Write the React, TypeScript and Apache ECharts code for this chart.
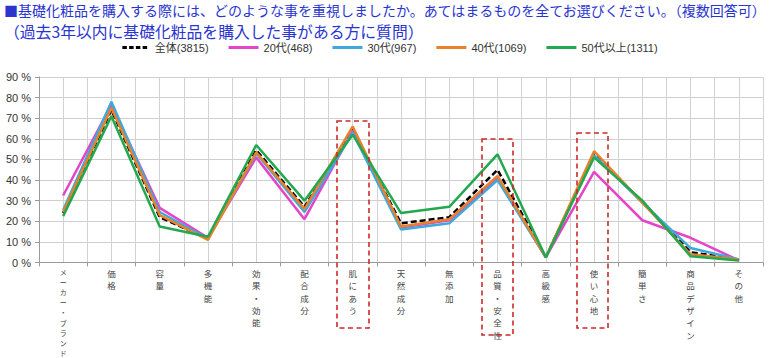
import React, { useEffect, useRef } from "react";
import * as echarts from "echarts";

const categories = [
  "メーカー・ブランド", "価格", "容量", "多機能", "効果・効能", "配合成分", "肌にあう",
  "天然成分", "無添加", "品質・安全性", "高級感", "使い心地", "簡単さ", "商品デザイン", "その他",
];
const seriesNames = ["全体(3815)", "20代(468)", "30代(967)", "40代(1069)", "50代以上(1311)"];
const totalAll = [24, 74, 22, 11.5, 54.5, 27, 64.5, 19, 22, 45, 2.5, 52.5, 29.5, 5, 1.5];
const age20 = [32.5, 76.5, 26.5, 12, 51, 21, 64, 17, 20.5, 41, 2.5, 44, 20.5, 12, 1];
const age30 = [25.5, 78, 24.5, 11.5, 53, 24.5, 63, 16, 19, 40, 2.5, 52, 29, 7, 1.5];
const age40 = [24.5, 75, 23, 11, 53.5, 26, 66, 17.5, 21, 42, 2.5, 54, 29, 4, 1.5];
const age50 = [22.5, 71, 17.5, 12.5, 57, 30, 62, 24, 27, 52.5, 2.5, 51, 30, 3, 1];
const yTicks = [0, 10, 20, 30, 40, 50, 60, 70, 80, 90];
const titleLine1 = "■基礎化粧品を購入する際には、どのような事を重視しましたか。あてはまるものを全てお選びください。（複数回答可）";
const titleLine2 = "（過去3年以内に基礎化粧品を購入した事がある方に質問）";
const colors = ["#000000", "#e544c9", "#3fa9dd", "#e8822a", "#22a84e"];

const FONT = "'Liberation Sans', 'Noto Sans CJK JP', sans-serif";
const CJK = "'Noto Sans CJK JP', sans-serif";
const SOLID_ICON = "path://M0 0H40V4H0Z";
const DASH_ICON = "path://M0 0H6V4H0ZM9 0H15V4H9ZM18 0H24V4H18ZM27 0H33V4H27Z";

export default function App() {
  const ref = useRef<HTMLDivElement>(null);
  useEffect(() => {
    document.body.style.margin = "0";
    const chart = echarts.init(ref.current!, null, { renderer: "svg" });
    const values = [totalAll, age20, age30, age40, age50];
    const halfCats = categories.flatMap((c) => [c + "a", c + "b"]);
    const redBox = (x: number, y: number, w: number, h: number) => ({
      type: "rect",
      shape: { x, y, width: w, height: h },
      style: { fill: "none", stroke: "#cc2a2a", lineWidth: 1.6, lineDash: [5, 3.5] },
      z: 100,
    });
    const titleText = (text: string, x: number, y: number, size: number) => ({
      type: "text",
      style: {
        x,
        y,
        text,
        fill: "#2a35d0",
        fontSize: size,
        fontFamily: CJK,
        verticalAlign: "middle",
        align: "left",
      },
      z: 100,
    });
    chart.setOption({
      animation: false,
      backgroundColor: "#ffffff",
      legend: {
        top: 37,
        left: "center",
        itemWidth: 30,
        itemHeight: 3,
        itemGap: 20,
        textStyle: { fontSize: 11, color: "#333", fontFamily: FONT },
        data: seriesNames.map((name, i) => ({ name, icon: i === 0 ? DASH_ICON : SOLID_ICON })),
      },
      grid: { left: 39, right: 17, top: 77, height: 185.5 },
      xAxis: [
        {
          type: "category",
          data: categories,
          boundaryGap: true,
          axisLine: { lineStyle: { color: "#9a9a9a", width: 1 } },
          axisTick: { show: true, length: 4, lineStyle: { color: "#9a9a9a" }, interval: 0 },
          splitLine: { show: false },
          axisLabel: {
            interval: 0,
            margin: 4,
            color: "#444",
            fontFamily: CJK,
            verticalAlign: "top",
            formatter: (v: string) => {
              const st = v.length > 7 ? "b" : "a";
              return v.split("").map((ch) => `{${st}|${ch}}`).join("\n");
            },
            rich: {
              a: { fontSize: 8.5, lineHeight: 12.4, color: "#444", fontFamily: CJK },
              b: { fontSize: 7, lineHeight: 10.2, color: "#444", fontFamily: CJK },
            },
          },
        },
        {
          type: "category",
          data: halfCats,
          boundaryGap: true,
          position: "bottom",
          axisLine: { show: false },
          axisTick: { show: false },
          axisLabel: { show: false },
          splitLine: { show: true, interval: 0, lineStyle: { color: "#d2d2d2", width: 1 } },
        },
      ],
      yAxis: {
        type: "value",
        min: 0,
        max: 90,
        interval: 10,
        axisLine: { show: true, lineStyle: { color: "#9a9a9a" } },
        axisTick: { show: true, length: 4, lineStyle: { color: "#9a9a9a" } },
        splitLine: { show: true, lineStyle: { color: "#cfcfcf", width: 1 } },
        axisLabel: {
          margin: 8,
          fontSize: 11,
          color: "#333",
          fontFamily: FONT,
          formatter: (v: number) => (yTicks.includes(v) ? v + " %" : ""),
        },
      },
      series: seriesNames.map((name, i) => ({
        name,
        type: "line",
        xAxisIndex: 0,
        data: values[i],
        symbol: "none",
        color: colors[i],
        lineStyle: {
          color: colors[i],
          width: 2.5,
          type: i === 0 ? [6, 3] : "solid",
        },
        z: 2 + i,
      })),
      graphic: [
        titleText(titleLine1, 4, 10, 14),
        titleText(titleLine2, 4, 31, 15.8),
        redBox(337, 121, 32, 207),
        redBox(482, 139, 31, 196),
        redBox(577, 133, 31, 195),
      ],
    });
    return () => chart.dispose();
  }, []);
  return (
    <div
      ref={ref}
      style={{ position: "fixed", left: 0, top: 0, width: 780, height: 358 }}
    />
  );
}
